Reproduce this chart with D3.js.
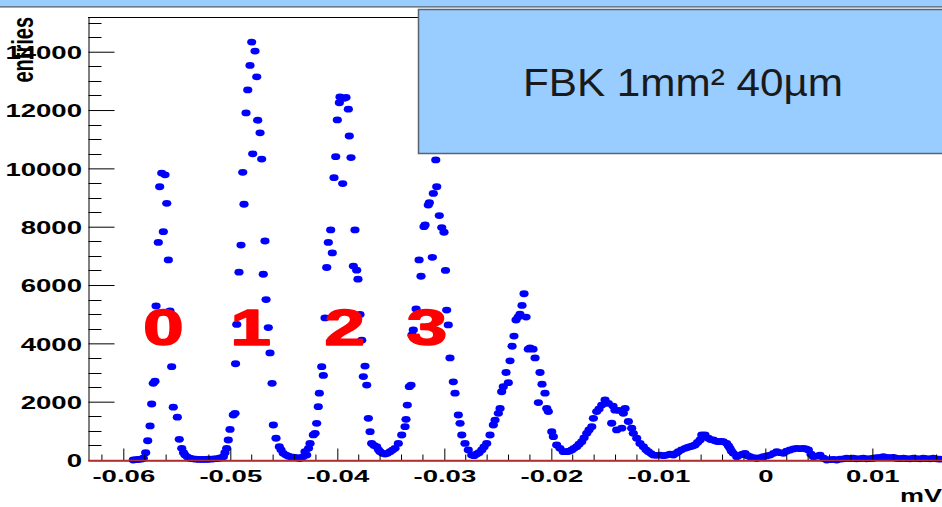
<!DOCTYPE html>
<html><head><meta charset="utf-8">
<script src="https://cdn.jsdelivr.net/npm/d3@7"></script>
<style>html,body{margin:0;padding:0;background:#fff;overflow:hidden}svg{display:block}</style>
</head><body>
<script>
// ---- data ----
const amplitudeMV = [
-0.05907,-0.05881,-0.05860,-0.05835,-0.05813,-0.05791,-0.05772,-0.05750,-0.05735,-0.05720,
-0.05704,-0.05694,-0.05673,-0.05660,-0.05641,-0.05626,-0.05610,-0.05594,-0.05579,-0.05564,
-0.05548,-0.05533,-0.05495,-0.05477,-0.05454,-0.05437,-0.05423,-0.05400,-0.05377,-0.05349,
-0.05321,-0.05293,-0.05264,-0.05236,-0.05208,-0.05180,-0.05152,-0.05124,-0.05096,-0.05065,
-0.05050,-0.05034,-0.05019,-0.05003,-0.04972,-0.04956,-0.04951,-0.04940,-0.04919,-0.04900,
-0.04884,-0.04872,-0.04853,-0.04837,-0.04816,-0.04800,-0.04791,-0.04769,-0.04753,-0.04744,
-0.04722,-0.04707,-0.04692,-0.04676,-0.04666,-0.04645,-0.04629,-0.04610,-0.04598,-0.04573,
-0.04542,-0.04526,-0.04505,-0.04479,-0.04456,-0.04433,-0.04411,-0.04386,-0.04367,-0.04349,
-0.04321,-0.04302,-0.04286,-0.04269,-0.04255,-0.04224,-0.04208,-0.04193,-0.04178,-0.04168,
-0.04146,-0.04131,-0.04115,-0.04099,-0.04084,-0.04062,-0.04047,-0.04031,-0.04015,-0.04000,
-0.03981,-0.03975,-0.03950,-0.03937,-0.03919,-0.03897,-0.03888,-0.03872,-0.03850,-0.03835,
-0.03819,-0.03807,-0.03788,-0.03772,-0.03757,-0.03741,-0.03725,-0.03710,-0.03694,-0.03679,
-0.03657,-0.03632,-0.03615,-0.03601,-0.03578,-0.03554,-0.03531,-0.03507,-0.03484,-0.03461,
-0.03430,-0.03398,-0.03367,-0.03358,-0.03346,-0.03327,-0.03311,-0.03302,-0.03290,-0.03264,
-0.03236,-0.03218,-0.03190,-0.03180,-0.03150,-0.03140,-0.03112,-0.03103,-0.03080,-0.03071,
-0.03047,-0.03024,-0.03003,-0.02989,-0.02978,-0.02963,-0.02947,-0.02916,-0.02900,-0.02869,
-0.02853,-0.02837,-0.02807,-0.02776,-0.02744,-0.02722,-0.02697,-0.02676,-0.02650,-0.02629,
-0.02604,-0.02573,-0.02542,-0.02526,-0.02495,-0.02479,-0.02464,-0.02449,-0.02423,-0.02402,
-0.02386,-0.02367,-0.02349,-0.02330,-0.02311,-0.02293,-0.02274,-0.02255,-0.02236,-0.02215,
-0.02199,-0.02171,-0.02152,-0.02121,-0.02106,-0.02087,-0.02059,-0.02043,-0.02028,-0.01996,
-0.01981,-0.01950,-0.01919,-0.01888,-0.01856,-0.01835,-0.01809,-0.01788,-0.01763,-0.01741,
-0.01716,-0.01694,-0.01669,-0.01648,-0.01622,-0.01607,-0.01576,-0.01554,-0.01529,-0.01498,
-0.01467,-0.01436,-0.01423,-0.01405,-0.01389,-0.01367,-0.01342,-0.01327,-0.01311,-0.01280,
-0.01249,-0.01234,-0.01202,-0.01171,-0.01140,-0.01115,-0.01093,-0.01068,-0.01047,-0.01017,
-0.00984,-0.00951,-0.00921,-0.00891,-0.00860,-0.00835,-0.00813,-0.00783,-0.00750,-0.00727,
-0.00704,-0.00680,-0.00657,-0.00634,-0.00610,-0.00594,-0.00564,-0.00533,-0.00512,-0.00486,
-0.00465,-0.00439,-0.00414,-0.00393,-0.00361,-0.00344,-0.00330,-0.00316,-0.00299,-0.00267,
-0.00236,-0.00213,-0.00190,-0.00166,-0.00143,-0.00110,-0.00080,-0.00050,-0.00019,0.00011,
0.00044,0.00077,0.00107,0.00137,0.00168,0.00198,0.00231,0.00264,0.00293,0.00324,
0.00355,0.00380,0.00402,0.00427,0.00449,0.00479,0.00511,0.00544,0.00574,0.00605,
0.00637,0.00667,0.00698,0.00731,0.00761,0.00792,0.00822,0.00852,0.00885,0.00916,
0.00946,0.00979,0.01009,0.01039,0.01072,0.01103,0.01133,0.01165,0.01196,0.01226,
0.01259,0.01290,0.01320,0.01352,0.01383,0.01413,0.01446,0.01477,0.01507,0.01539,
0.01570,0.01600,0.01633
];
const entries = [
0,10,20,30,60,250,660,1170,1920,2630,
2700,5280,7460,9370,9840,7830,9780,8800,6860,5110,
3200,1810,1470,710,400,250,170,100,60,40,
30,20,20,20,25,30,40,50,70,113,
250,400,686,1050,1543,1600,3300,4650,6440,7370,
9865,8770,11900,12690,13530,14330,10500,14020,13140,11650,
11220,10320,6370,7510,5500,4540,3670,2630,1200,745,
456,350,230,170,130,100,94,80,70,60,
110,285,170,400,570,860,914,1257,1830,2290,
3200,2900,4870,6600,7460,7890,7100,9680,10400,11660,
12250,12450,9480,12400,12430,12030,11110,10370,6650,7890,
6510,6200,4990,4110,2860,3220,2570,1430,970,570,
500,456,350,285,230,206,230,285,340,400,
570,857,1143,1395,1885,2515,2570,4290,4460,5180,
6860,6300,8000,8060,8740,8820,6950,9140,10290,9370,
8380,7970,7810,6500,5140,4630,3500,2680,2290,1543,
1257,857,570,343,170,150,206,250,343,450,
570,857,1200,1370,1600,1770,2340,2515,3000,2650,
3400,3900,4250,4800,4900,5000,5300,5700,4900,3800,
3840,3800,3500,1970,3000,2600,2290,1770,1660,970,
800,515,400,285,285,300,343,400,456,540,
630,760,915,1030,1143,1430,1660,1750,1885,2060,
1940,1260,1850,1710,1030,1700,1090,1600,1770,1320,
1090,915,745,570,456,350,285,220,170,160,
170,150,170,200,170,230,285,350,400,430,
456,480,515,600,686,857,857,745,700,686,
650,630,640,630,570,480,400,300,230,113,
170,200,230,150,113,80,60,80,113,140,
170,230,285,250,230,300,343,380,400,390,
400,380,343,200,113,130,170,60,0,10,
20,0,30,40,60,50,60,40,50,60,
40,50,60,80,90,113,90,80,90,60,
50,60,50,40,60,50,40,60,50,40,
60,40,30
];
const yTickValues = [0,2000,4000,6000,8000,10000,12000,14000];
const yTickLabels = ["0","2000","4000","6000","8000","10000","12000","14000"];
const xTickValues = [-0.06,-0.05,-0.04,-0.03,-0.02,-0.01,0,0.01];
const xTickLabels = ["-0.06","-0.05","-0.04","-0.03","-0.02","-0.01","0","0.01"];
const peakLabels = ["0","1","2","3"];
const peakLabelAt = [-0.05626,-0.04811,-0.03931,-0.03162];
const peakLabelLevel = 3940;
const xTitle = "mV";
const yTitle = "entries";
const legendText = "FBK 1mm\u00b2 40\u00b5m";

// ---- drawing ----
const W = 942, H = 507;
const svg = d3.select("body").append("svg").attr("width", W).attr("height", H);
const font = "'Liberation Sans', Arial, Helvetica, sans-serif";

const x = d3.scaleLinear().domain([-0.0633, 0.0175]).range([88, 952.6]);
const y = d3.scaleLinear().domain([0, 15190]).range([460, 17]);

// top band of slide
svg.append("rect").attr("x",0).attr("y",0).attr("width",W).attr("height",6.5).attr("fill","#99ccff");
svg.append("line").attr("x1",0).attr("x2",W).attr("y1",6.8).attr("y2",6.8).attr("stroke","#4a5866").attr("stroke-width",1.3);

// frame top
svg.append("line").attr("x1",88).attr("x2",W).attr("y1",17.5).attr("y2",17.5).attr("stroke","#000").attr("stroke-width",1);

// points
const pts = amplitudeMV.map((v,i)=>({v, n: entries[i]}));
svg.append("g").selectAll("ellipse").data(pts).join("ellipse")
  .attr("cx", d=>x(d.v)).attr("cy", d=>y(d.n))
  .attr("rx", 4.6).attr("ry", 3.4).attr("fill", "#0000ff");

// y axis
const yAxis = svg.append("g").attr("transform","translate(88.5,0)")
  .call(d3.axisLeft(y).tickValues(yTickValues).tickSize(-26).tickSizeOuter(0).tickFormat((d,i)=>yTickLabels[i]));
yAxis.select(".domain").attr("stroke","#000");
yAxis.selectAll(".tick line").attr("stroke","#000");
yAxis.selectAll(".tick text")
  .attr("x",null).attr("dy",null)
  .attr("text-anchor","end")
  .attr("transform","translate(-6.5,6.9) scale(1.45,1)")
  .attr("font-family",font).attr("font-weight","bold").attr("font-size",19).attr("fill","#000");
const yMinor = d3.range(500, 15190, 500).filter(v=>v%2000!==0);
svg.append("g").selectAll("line").data(yMinor).join("line")
  .attr("x1",88.5).attr("x2",88.5+13).attr("y1",d=>Math.round(y(d))+0.5).attr("y2",d=>Math.round(y(d))+0.5)
  .attr("stroke","#000");

// x axis
const xAxis = svg.append("g").attr("transform","translate(0,460.5)")
  .call(d3.axisBottom(x).tickValues(xTickValues).tickSize(-12).tickSizeOuter(0).tickFormat((d,i)=>xTickLabels[i]));
xAxis.select(".domain").attr("stroke","#000");
xAxis.selectAll(".tick line").attr("stroke","#000");
xAxis.selectAll(".tick text")
  .attr("y",null).attr("dy",null)
  .attr("text-anchor","middle")
  .attr("transform","translate(0,21.5) scale(1.62,1)")
  .attr("font-family",font).attr("font-weight","bold").attr("font-size",17).attr("fill","#000");
const xMinor = d3.range(-0.062, 0.0176, 0.002).filter(v=>Math.abs(v*100-Math.round(v*100))>1e-6);
svg.append("g").selectAll("line").data(xMinor).join("line")
  .attr("x1",d=>x(d)).attr("x2",d=>x(d)).attr("y1",460.5).attr("y2",454.5)
  .attr("stroke","#000");
// zero-level line of the histogram
svg.append("line").attr("x1",88).attr("x2",W).attr("y1",y(0)+0.5).attr("y2",y(0)+0.5)
  .attr("stroke","#b03030").attr("stroke-width",1.4);

// axis titles
svg.append("text").text(xTitle)
  .attr("transform","translate(942,502) scale(1.5,1)")
  .attr("text-anchor","end").attr("font-family",font).attr("font-weight","bold").attr("font-size",18).attr("fill","#000");
svg.append("text").text(yTitle)
  .attr("transform","translate(33,17) scale(1.45,1) rotate(-90)")
  .attr("text-anchor","end").attr("font-family",font).attr("font-weight","bold").attr("font-size",20).attr("fill","#000");

// peak labels
svg.append("g").selectAll("text").data(peakLabels).join("text")
  .text(d=>d)
  .attr("transform",(d,i)=>`translate(${x(peakLabelAt[i])},${y(peakLabelLevel)}) scale(1.45,1)`)
  .attr("text-anchor","middle").attr("font-family",font).attr("font-weight","bold").attr("font-size",50)
  .attr("fill","#ff0000").attr("stroke","#ff0000").attr("stroke-width",1.6).attr("stroke-linejoin","round");

// legend box
svg.append("rect").attr("x",418.5).attr("y",9.5).attr("width",600).attr("height",144)
  .attr("fill","#99ccff").attr("stroke","#5a6470").attr("stroke-width",1.5);
svg.append("text").text(legendText)
  .attr("x",523).attr("y",95.7).attr("textLength",320).attr("lengthAdjust","spacingAndGlyphs")
  .attr("font-family",font).attr("font-size",38).attr("fill","#1a1a1a");
</script>
</body></html>
